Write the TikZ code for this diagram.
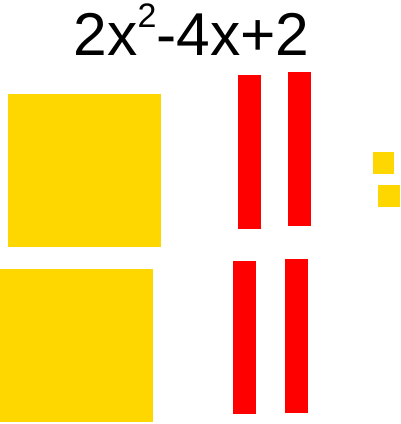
\documentclass[tikz,border=0pt]{standalone}
\usepackage{fontspec}
\setmainfont{Liberation Sans}
\definecolor{tileyellow}{RGB}{255,215,0}
\definecolor{tilered}{RGB}{255,0,0}
\begin{document}
\begin{tikzpicture}[x=1pt,y=-1pt,
  xsq/.style={fill=tileyellow},
  xbar/.style={fill=tilered},
  unit/.style={fill=tileyellow}]
\useasboundingbox (0,0) rectangle (401,424);
% title
\node[anchor=base west, inner sep=0pt, font=\fontsize{60.5}{62}\selectfont] (title) at (73.5,55)
  {2x\raisebox{28pt}{\fontsize{34}{35}\selectfont 2}-4x+2};
% x^2 tiles
\fill[xsq] (8,94) rectangle (161,247);
\fill[xsq] (0,269) rectangle (153,422);
% x tiles
\fill[xbar] (238,75) rectangle (261,229);
\fill[xbar] (288,72) rectangle (311,226);
\fill[xbar] (233,261) rectangle (256,414);
\fill[xbar] (285,259) rectangle (308,413);
% unit tiles
\fill[unit] (373,152) rectangle (394,174);
\fill[unit] (378,185) rectangle (400,207);
\end{tikzpicture}
\end{document}
